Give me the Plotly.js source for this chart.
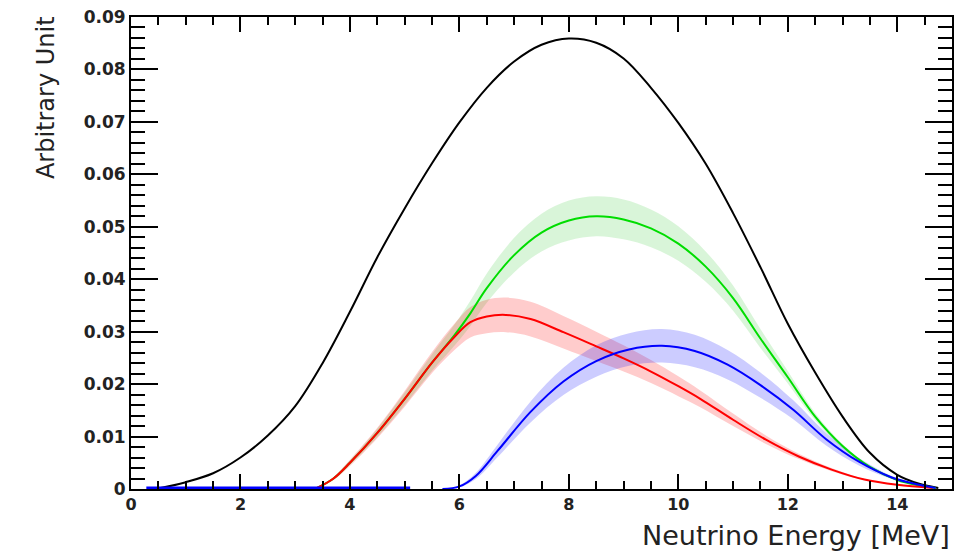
<!DOCTYPE html>
<html>
<head>
<meta charset="utf-8">
<script src="https://cdn.plot.ly/plotly-3.0.1.min.js"></script>
<style>html,body{margin:0;padding:0;background:#fff;}#chart{width:963px;height:552px;}</style>
</head>
<body>
<div id="chart"></div>
<script>
// Black: total spectrum
const blackX = [0.45, 1.0, 1.5, 2.0, 2.5, 3.0, 3.5, 4.0, 4.5, 5.0, 5.5, 6.0, 6.5, 7.0, 7.5, 8.0, 8.5, 9.0, 9.5, 10.0, 10.5, 11.0, 11.5, 12.0, 12.5, 13.0, 13.5, 14.0, 14.4, 14.75];
const blackY = [0.0, 0.0013, 0.003, 0.006, 0.0102, 0.0158, 0.024, 0.0338, 0.0442, 0.0535, 0.0621, 0.0699, 0.0765, 0.0815, 0.0847, 0.0859, 0.0851, 0.0821, 0.0765, 0.0698, 0.062, 0.0526, 0.0423, 0.0315, 0.0222, 0.0138, 0.0069, 0.0027, 0.001, 0.0002];

// Green
const greenX = [3.4, 3.7, 4.0, 4.5, 5.0, 5.5, 5.9, 6.2, 6.5, 7.0, 7.5, 8.0, 8.5, 9.0, 9.5, 10.0, 10.5, 11.0, 11.5, 12.0, 12.5, 13.0, 13.5, 14.0, 14.4, 14.7];
const greenY = [0.0002, 0.002, 0.005, 0.0107, 0.0172, 0.0241, 0.0292, 0.0335, 0.0383, 0.0446, 0.0489, 0.0512, 0.052, 0.0514, 0.0497, 0.0468, 0.0424, 0.0364, 0.0287, 0.0213, 0.0138, 0.0082, 0.0042, 0.0017, 0.0007, 0.0002];
const greenErr = [0, 0.0002, 0.0004, 0.0008, 0.0012, 0.0016, 0.002, 0.0024, 0.0028, 0.0033, 0.0036, 0.0038, 0.0038, 0.0038, 0.0036, 0.0033, 0.0029, 0.0024, 0.0018, 0.0012, 0.0007, 0.0004, 0.0002, 0.0001, 0, 0];

// Red
const redX = [3.4, 3.7, 4.0, 4.5, 5.0, 5.5, 5.9, 6.2, 6.5, 6.85, 7.3, 7.9, 8.5, 9.0, 9.5, 10.0, 10.4, 11.0, 11.6, 12.2, 12.8, 13.4, 14.0, 14.65];
const redY = [0.0002, 0.002, 0.005, 0.0107, 0.0172, 0.0241, 0.0289, 0.0318, 0.0329, 0.0332, 0.0324, 0.0299, 0.0272, 0.0249, 0.0224, 0.0196, 0.0172, 0.0132, 0.0094, 0.0062, 0.0037, 0.0018, 0.0008, 0.0002];
const redErr = [0, 0.0003, 0.0006, 0.001, 0.0015, 0.002, 0.0025, 0.0029, 0.0032, 0.0033, 0.0033, 0.0031, 0.0028, 0.0025, 0.0022, 0.0019, 0.0016, 0.0012, 0.0008, 0.0005, 0.0003, 0.0001, 0, 0];

// Blue
const blueX = [5.69, 6.0, 6.3, 6.7, 7.3, 7.9, 8.5, 9.1, 9.7, 10.3, 10.9, 11.5, 12.1, 12.7, 13.3, 13.9, 14.4, 14.7];
const blueY = [0.0, 0.0005, 0.0025, 0.0073, 0.0147, 0.0205, 0.0244, 0.0266, 0.0273, 0.0263, 0.0237, 0.0198, 0.0151, 0.0095, 0.0052, 0.0022, 0.0008, 0.0002];
const blueErr = [0, 0.0002, 0.0006, 0.0012, 0.002, 0.0026, 0.003, 0.0031, 0.0032, 0.0031, 0.0028, 0.0024, 0.0018, 0.0012, 0.0007, 0.0003, 0.0001, 0];

// Blue zero segment
const blueZeroX = [0.28, 5.1];
const blueZeroY = [0, 0];

const xTickVals = [0, 2, 4, 6, 8, 10, 12, 14];
const xTickText = ['0', '2', '4', '6', '8', '10', '12', '14'];
const yTickVals = [0, 0.01, 0.02, 0.03, 0.04, 0.05, 0.06, 0.07, 0.08, 0.09];
const yTickText = ['0', '0.01', '0.02', '0.03', '0.04', '0.05', '0.06', '0.07', '0.08', '0.09'];

function band(x, y, e, color) {
  const lo = y.map((v, i) => v - e[i]);
  const hi = y.map((v, i) => v + e[i]);
  return [
    {x: x, y: lo, mode: 'lines', line: {width: 0, shape: 'spline', smoothing: 1}, hoverinfo: 'skip', showlegend: false},
    {x: x, y: hi, mode: 'lines', line: {width: 0, shape: 'spline', smoothing: 1}, fill: 'tonexty', fillcolor: color, hoverinfo: 'skip', showlegend: false}
  ];
}
function line(x, y, color, w) {
  return {x: x, y: y, mode: 'lines', line: {color: color, width: w, shape: 'spline', smoothing: 1}, showlegend: false};
}

const data = [].concat(
  band(greenX, greenY, greenErr, 'rgba(0,190,0,0.15)'),
  band(redX, redY, redErr, 'rgba(255,0,0,0.2)'),
  band(blueX, blueY, blueErr, 'rgba(0,0,255,0.2)'),
  [
    line(blackX, blackY, '#000000', 2),
    line(greenX, greenY, '#00dd00', 2),
    line(redX, redY, '#ff0000', 2),
    line(blueX, blueY, '#0000ff', 2),
    {x: blueZeroX, y: blueZeroY, mode: 'lines', line: {color: '#0000ff', width: 5}, showlegend: false}
  ]
);

const layout = {
  width: 963, height: 552,
  margin: {l: 130.5, r: 11, t: 17, b: 62.5},
  paper_bgcolor: '#fff', plot_bgcolor: '#fff',
  showlegend: false,
  xaxis: {
    range: [0, 15], showgrid: false, zeroline: false,
    showline: true, linecolor: '#000', linewidth: 2, mirror: 'ticks',
    ticks: 'inside', ticklen: 15, tickwidth: 2, tickcolor: '#000',
    tickmode: 'array', tickvals: xTickVals, ticktext: xTickText,
    tickfont: {family: 'DejaVu Sans', size: 16, color: '#222', weight: 'bold'},
    minor: {tickmode: 'linear', tick0: 0, dtick: 0.5, ticks: 'inside', ticklen: 8, tickwidth: 2, tickcolor: '#000', showgrid: false}
  },
  yaxis: {
    range: [0, 0.09], showgrid: false, zeroline: false,
    showline: true, linecolor: '#000', linewidth: 2, mirror: 'ticks',
    ticks: 'inside', ticklen: 27, tickwidth: 2, tickcolor: '#000',
    tickmode: 'array', tickvals: yTickVals, ticktext: yTickText,
    tickfont: {family: 'DejaVu Sans', size: 17, color: '#222', weight: 'bold'},
    minor: {tickmode: 'linear', tick0: 0, dtick: 0.002, ticks: 'inside', ticklen: 14, tickwidth: 2, tickcolor: '#000', showgrid: false}
  },
  annotations: [
    {text: 'Neutrino Energy [MeV]', xref: 'paper', yref: 'paper', x: 1, y: 0, xanchor: 'right', yanchor: 'top', yshift: -29, showarrow: false,
     font: {family: 'DejaVu Sans', size: 27, color: '#222'}},
    {text: 'Arbitrary Unit', xref: 'paper', yref: 'paper', x: -0.104, y: 1, xanchor: 'center', yanchor: 'top', yshift: 3, textangle: -90, showarrow: false,
     font: {family: 'DejaVu Sans', size: 24, color: '#222'}}
  ]
};

Plotly.newPlot('chart', data, layout, {displayModeBar: false, staticPlot: true});
</script>
</body>
</html>
